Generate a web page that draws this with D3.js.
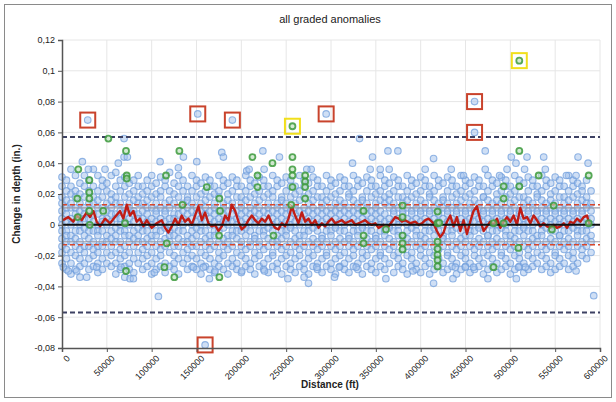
<!DOCTYPE html>
<html>
<head>
<meta charset="utf-8">
<script src="https://cdn.jsdelivr.net/npm/d3@7"></script>
<style>
  body { margin: 0; background: #fff; }
  svg { display: block; }
  text { font-family: "Liberation Sans", Arial, sans-serif; }
</style>
</head>
<body>
<div id="chart"></div>
<script>
// distances are in kft, depth changes in mils (0.001 in.)
const chartTitle = 'all graded anomalies'
const xTicks = [0, 50000, 100000, 150000, 200000, 250000, 300000, 350000, 400000, 450000, 500000, 550000, 600000]
const yTicks = [-0.08, -0.06, -0.04, -0.02, 0, 0.02, 0.04, 0.06, 0.08, 0.1, 0.12]

// tolerance lines
const outerLimit = 0.057
const innerLimit = 0.013
const grayLimit = 0.011

// the dense cloud, read column by column
const blueColumns = [
  [0, [31, 25, 18, 14, 9, 4, 0, -4, -9, -14, -18, -25]],
  [5, [29, 22, 16, 11, 7, 2, -4, -7, -11, -16, -22, -29]],
  [10, [36, 25, 20, 14, 11, 4, 0, -7, -11, -18, -25, -32]],
  [15, [32, 22, 18, 11, 7, 2, -4, -9, -14, -20, -29]],
  [20, [27, 20, 14, 9, 4, 0, -4, -11, -16, -22, -27, -34]],
  [25, [32, 25, 18, 11, 7, 4, -2, -7, -14, -18, -25]],
  [30, [29, 22, 14, 9, 4, 0, -4, -9, -14, -22, -29]],
  [35, [25, 18, 14, 7, 2, -4, -11, -16, -20, -27]],
  [40, [32, 22, 16, 11, 7, 0, -4, -7, -14, -18, -25, -31]],
  [45, [29, 25, 18, 11, 4, 2, -4, -11, -14, -22, -29]],
  [50, [27, 22, 14, 9, 4, 0, -7, -11, -18, -25]],
  [55, [32, 20, 16, 11, 7, 2, -4, -9, -14, -20, -27]],
  [60, [34, 25, 18, 14, 7, 4, -2, -7, -11, -18, -25, -32]],
  [65, [29, 22, 14, 9, 4, 0, -4, -11, -16, -22, -29]],
  [70, [31, 25, 18, 11, 7, 2, -4, -7, -14, -20, -27, -34]],
  [75, [27, 20, 14, 11, 4, 0, -7, -11, -18, -25, -29]],
  [80, [29, 22, 16, 9, 7, 2, -4, -9, -14, -22, -31]],
  [85, [32, 25, 18, 14, 7, 4, -2, -7, -11, -18, -25]],
  [90, [25, 20, 14, 9, 4, 0, -4, -11, -16, -22, -29]],
  [95, [29, 22, 16, 11, 7, 2, -4, -9, -14, -20, -27]],
  [100, [32, 25, 18, 11, 4, 0, -7, -11, -18, -25, -32]],
  [105, [27, 20, 14, 9, 7, 2, -4, -7, -14, -22, -29]],
  [110, [31, 22, 18, 11, 4, 0, -4, -11, -16, -20, -27]],
  [115, [29, 25, 14, 9, 7, 2, -2, -9, -14, -25, -31]],
  [120, [34, 22, 16, 11, 4, 0, -4, -7, -11, -18, -27]],
  [125, [27, 20, 14, 7, 4, -2, -7, -14, -20, -25, -29]],
  [130, [32, 25, 18, 11, 7, 2, -4, -9, -14, -22, -32]],
  [135, [29, 22, 14, 9, 4, 0, -4, -11, -18, -25]],
  [140, [25, 18, 16, 11, 7, 2, -7, -11, -16, -22, -29]],
  [145, [32, 22, 14, 9, 4, 0, -4, -9, -14, -20, -27]],
  [150, [29, 25, 18, 11, 7, 2, -2, -7, -14, -22, -29]],
  [155, [27, 20, 14, 9, 4, 0, -4, -11, -18, -25, -32]],
  [160, [31, 22, 16, 11, 7, 2, -4, -9, -14, -20, -27]],
  [165, [29, 25, 18, 9, 4, 0, -7, -11, -16, -22, -29]],
  [170, [25, 20, 14, 11, 7, 2, -4, -7, -14, -25, -31]],
  [175, [32, 22, 18, 9, 4, 0, -4, -11, -18, -22, -27]],
  [180, [29, 25, 14, 11, 7, 2, -2, -9, -14, -20, -29]],
  [185, [27, 20, 16, 9, 4, 0, -7, -11, -16, -25, -32]],
  [190, [31, 22, 14, 11, 7, 2, -4, -7, -14, -22, -27]],
  [195, [29, 25, 18, 9, 4, 0, -4, -9, -18, -25, -29]],
  [200, [25, 18, 14, 11, 7, 2, -4, -11, -14, -20, -31]],
  [205, [32, 22, 16, 9, 4, 0, -2, -7, -16, -22, -27]],
  [210, [29, 25, 18, 11, 7, 2, -4, -11, -14, -25, -29]],
  [215, [27, 20, 14, 9, 4, 0, -7, -9, -18, -22, -32]],
  [220, [31, 22, 16, 11, 7, 2, -4, -11, -14, -20, -27]],
  [225, [29, 25, 18, 9, 4, 0, -4, -7, -16, -25, -29]],
  [230, [25, 20, 14, 11, 7, 2, -2, -9, -14, -22, -31]],
  [235, [32, 22, 18, 9, 4, 0, -4, -11, -18, -20, -27]],
  [240, [29, 25, 14, 11, 7, 2, -7, -11, -14, -25, -29]],
  [245, [27, 18, 16, 9, 4, 0, -4, -9, -16, -22, -32]],
  [250, [31, 22, 14, 11, 7, 2, -4, -7, -14, -20, -27]],
  [255, [29, 25, 18, 9, 4, 0, -2, -11, -18, -25, -29]],
  [260, [25, 20, 14, 11, 7, 2, -4, -9, -14, -22, -31]],
  [265, [32, 22, 16, 9, 4, 0, -7, -11, -16, -20, -27]],
  [270, [29, 25, 18, 11, 7, 2, -4, -7, -14, -25, -29]],
  [275, [27, 20, 14, 9, 4, 0, -4, -11, -18, -22, -32]],
  [280, [31, 22, 16, 11, 7, 2, -2, -9, -14, -20, -27]],
  [285, [29, 25, 18, 9, 4, 0, -4, -11, -16, -25, -29]],
  [290, [25, 18, 14, 11, 7, 2, -7, -9, -14, -22, -31]],
  [295, [32, 22, 16, 9, 4, 0, -4, -11, -18, -20, -27]],
  [300, [29, 25, 18, 11, 7, 2, -4, -7, -14, -25, -29]],
  [305, [27, 20, 14, 9, 4, 0, -2, -11, -16, -22, -32]],
  [310, [31, 22, 16, 11, 7, 2, -4, -9, -14, -20, -27]],
  [315, [29, 25, 14, 9, 4, 0, -4, -11, -18, -25, -29]],
  [320, [25, 20, 18, 11, 7, 2, -7, -9, -14, -22, -31]],
  [325, [32, 22, 16, 9, 4, 0, -4, -11, -16, -20, -27]],
  [330, [29, 25, 14, 11, 7, 2, -4, -7, -14, -25, -29]],
  [335, [27, 18, 16, 9, 4, 0, -2, -11, -18, -22, -32]],
  [340, [31, 22, 14, 11, 7, 2, -4, -9, -14, -20, -27]],
  [345, [29, 25, 18, 9, 4, 0, -4, -11, -16, -25, -29]],
  [350, [25, 20, 14, 11, 7, 2, -7, -9, -14, -22, -31]],
  [355, [32, 22, 16, 9, 4, 0, -4, -11, -18, -20, -27]],
  [360, [29, 25, 18, 14, 7, 2, -4, -7, -14, -22, -29]],
  [365, [27, 20, 16, 11, 4, 0, -2, -9, -16, -25]],
  [370, [31, 22, 14, 9, 7, 2, -4, -11, -14, -20, -31]],
  [375, [29, 25, 18, 11, 4, 0, -4, -7, -18, -22, -27]],
  [380, [25, 18, 14, 9, 7, 2, -7, -11, -16, -25, -29]],
  [385, [32, 22, 16, 11, 4, 0, -4, -9, -14, -20, -32]],
  [390, [29, 25, 18, 9, 7, 2, -2, -11, -18, -22, -27]],
  [395, [27, 20, 14, 11, 4, 0, -4, -7, -14, -25, -29]],
  [400, [31, 22, 16, 9, 7, 2, -7, -11, -16, -20, -31]],
  [405, [29, 25, 14, 11, 4, 0, -4, -9, -14, -22, -27]],
  [410, [25, 20, 18, 9, 7, 2, -4, -11, -18, -25, -32]],
  [415, [32, 22, 16, 11, 4, 0, -2, -7, -14, -20, -29]],
  [420, [29, 25, 14, 9, 7, 2, -4, -11, -16, -22, -27]],
  [425, [27, 18, 16, 11, 4, 0, -7, -9, -14, -25, -31]],
  [430, [31, 22, 14, 9, 7, 2, -4, -11, -18, -20, -29]],
  [435, [29, 25, 18, 11, 4, 0, -4, -7, -14, -22, -27]],
  [440, [25, 20, 14, 9, 7, 2, -2, -11, -16, -25, -32]],
  [445, [32, 22, 16, 11, 4, 0, -4, -9, -14, -20, -29]],
  [450, [29, 25, 18, 9, 7, 2, -7, -11, -18, -22, -27]],
  [455, [27, 20, 14, 11, 4, 0, -4, -7, -14, -25, -31]],
  [460, [31, 22, 16, 9, 7, 2, -4, -11, -16, -20, -29]],
  [465, [29, 25, 14, 11, 4, 0, -2, -9, -14, -22, -27]],
  [470, [25, 18, 18, 9, 7, 2, -4, -11, -18, -25, -32]],
  [475, [32, 22, 16, 11, 4, 0, -7, -7, -14, -20, -29]],
  [480, [29, 25, 14, 9, 7, 2, -4, -11, -16, -22, -27]],
  [485, [27, 20, 16, 11, 4, 0, -4, -9, -14, -25, -31]],
  [490, [31, 22, 14, 9, 7, 2, -2, -11, -18, -20, -29]],
  [495, [29, 25, 18, 11, 4, 0, -4, -7, -14, -22, -27]],
  [500, [25, 20, 14, 9, 7, 2, -7, -11, -16, -25, -32]],
  [505, [32, 22, 16, 11, 4, 0, -4, -9, -14, -20, -29]],
  [510, [29, 25, 18, 9, 7, 2, -4, -11, -18, -22, -27]],
  [515, [27, 18, 14, 11, 4, 0, -2, -7, -14, -25, -31]],
  [520, [31, 22, 16, 9, 7, 2, -4, -11, -16, -20, -29]],
  [525, [29, 25, 14, 11, 4, 0, -4, -9, -14, -22, -27]],
  [530, [25, 20, 18, 9, 7, 2, -7, -11, -18, -25]],
  [535, [32, 22, 16, 11, 4, 0, -4, -7, -14, -20, -29]],
  [540, [29, 25, 14, 9, 7, 2, -2, -11, -16, -22, -27]],
  [545, [27, 20, 16, 11, 4, 0, -4, -9, -14, -25, -31]],
  [550, [31, 22, 14, 9, 7, 2, -4, -11, -18, -20, -29]],
  [555, [29, 25, 18, 11, 4, 0, -7, -7, -14, -22, -27]],
  [560, [25, 18, 14, 9, 7, 2, -4, -11, -16, -25]],
  [565, [32, 22, 16, 11, 4, 0, -4, -9, -14, -20, -29]],
  [570, [29, 25, 18, 9, 7, 2, -2, -11, -18, -22, -27]],
  [575, [27, 20, 14, 11, 4, 0, -4, -7, -14, -25]],
  [580, [25, 22, 16, 9, 7, 2, -4, -11, -16, -20]],
  [585, [29, 18, 14, 11, 4, 0, -4, -9, -14, -22]],
  [590, [22, 14, 9, 4, 0, -7, -11, -18]]
]

// sparse points outside the cloud
const blueExtra = [
  [28.7, 68], [151.4, 72], [190, 68], [294.6, 72], [460.1, 80], [460.1, 60], [159.6, -78],
  [22.7, 41], [62.8, 40], [69.2, 56], [69.2, 44], [72.9, 44], [48, 36], [35, 36], [29.4, 36],
  [109.4, 41], [135.4, 44], [129.8, 37], [150.3, 41], [178.2, 47], [180, 44], [206, 35],
  [224, 48], [242.5, 44], [277.9, 36], [273, 36], [324, 40], [331.8, 56], [346.3, 44],
  [363.5, 48], [374.6, 48], [343.7, 36], [354.9, 36], [364.9, 36], [405, 36], [414.4, 43],
  [208.7, 36], [225.4, 36], [472, 48], [501.1, 44], [518.6, 44], [537.2, 44], [575.5, 44],
  [506.3, 40], [586.7, 40], [434.1, 36], [472, 36], [496.3, 36], [515.9, 36], [539, 36],
  [447.8, 32], [488, 32], [573.3, 32], [562.5, 32],
  [107.5, -46.5], [27.5, -34], [75.9, -35], [79.6, -35], [164.4, -35], [38.7, -27.5],
  [65.8, -27.5], [1.5, -27.5], [7, -30], [16.4, -30], [103, -31], [157.7, -27.5],
  [146.5, -27.5], [170.7, -30], [274.9, -38], [270, -34], [251.9, -35], [303.9, -34],
  [361.2, -35], [391.4, -30], [225.8, -30], [328.1, -27.5], [309.1, -27.5], [284.2, -27.5],
  [200.5, -30], [414.4, -38], [593, -46], [436, -35], [475, -35], [506.7, -35], [573.3, -30],
  [459, -27.5], [449.8, -27.5], [438.6, -27.5], [516.7, -27.5], [509.2, -27.5]
]

const greenPoints = [
  [17.1, 17], [17.5, 5], [18.2, 36], [30.5, 29], [30.5, 21], [30.5, 17], [30.5, 9], [31, 0],
  [46, 9], [51.7, 56], [71.4, 48], [72.2, 32], [72.2, 30], [70.3, 1], [71.4, -30],
  [114.2, -27.5], [116, 32], [116.8, -12], [125.3, -34], [130.9, 48], [134.3, 13],
  [161.5, 24.5], [175.5, 17], [176.3, 9], [175.2, -7], [175.5, -34], [212.4, 44], [218, 32],
  [218, 24.5], [234.7, 40], [235.8, -7], [255.6, 13], [257, 64], [257, 44], [257, 36],
  [257, 32], [257, 24.5], [271.2, 32], [271.2, 28], [271.2, 24.5], [271.2, 17],
  [336.3, 9], [336.3, -7], [336.3, -12], [361.3, -3], [379.8, 12.5], [379.8, 5], [379.8, -7],
  [379.8, -12], [379.8, -16], [418.8, 8.6], [418.8, 1], [418.8, -11], [418.8, -15.6],
  [418.8, -19.5], [418.8, -23], [418.8, -27], [420.7, 1.3], [481.3, 1], [481.3, -27.5],
  [492.5, 25], [492.5, 17], [492.5, 1], [509, -15], [510, 106.6], [510, 48], [510, 25],
  [531.6, 32], [546.4, -3], [548.3, 12.5], [587.4, 32], [587.4, 1]
]

const movingAvg = [
  [1, 3], [4, 4], [7, 5], [12.6, 2], [16.4, 6], [22, 3], [27.5, 8], [31.2, 5], [35, 9], [38.7, 2],
  [42.4, -1], [48, 4], [53.6, 1], [59.1, 5], [64.7, 9], [68.4, 4], [72.2, 13], [75.9, 6], [79.6, 9],
  [83.3, 2], [87, 4], [90.8, -1], [94.5, 3], [100, -2], [105.7, 1], [111.2, 3], [115, -2],
  [118.7, -5], [122.4, -1], [126.1, 4], [129.8, 0], [133.5, 6], [137.3, 2], [141, 4], [144.7, 0],
  [148.4, 6], [152.1, 12], [155.9, 3], [159.6, 8], [163.3, 1], [167, -1], [170.7, 0], [174.5, -4],
  [178.2, -1], [181.9, 6], [185.6, 3], [189.3, 13], [193.1, 9], [196.8, 2], [200.5, -3],
  [204.2, -1], [208, 3], [211.7, 6], [215.4, 3], [219.1, 1], [222.8, 4], [226.5, 2], [230.3, 6],
  [234, 1], [237.7, -2], [241.4, -3], [245.1, 1], [248.9, -1], [252.6, 4], [256.3, 12], [260, 6],
  [263.7, 1], [267.5, 8], [271.2, 2], [274.9, 4], [278.6, 0], [282.3, 3], [286.1, -2], [289.8, 1],
  [293.5, -1], [297.2, 2], [300.9, 4], [304.6, 1], [308.4, 2], [312, 3], [315.8, 1], [319.5, 2],
  [323.3, 3], [327, 0], [330.7, 1], [334.4, 2], [338.1, 3], [341.9, 1], [345.6, 0], [349.3, 1],
  [353, -2], [358.6, 0], [364.2, -1], [367.9, 2], [371.6, 5], [375.4, 4], [379.1, 2], [382.8, 3],
  [388.4, 1], [394, 2], [397.7, 0], [401.4, 1], [405.1, 3], [408.8, 4], [414.4, 1], [418.1, -4],
  [421.8, -8], [425.6, -5], [429.3, 2], [433, 6], [436.7, -1], [440.4, 5], [444.2, -4], [447.9, 3],
  [451.6, -6], [455.3, 2], [459, 9], [462.8, 12], [466.5, 3], [470.2, -4], [473.9, -1], [477.6, 2],
  [481.4, 0], [485.1, 4], [488.8, -2], [492.5, 2], [496.2, 5], [500, 2], [503.7, 6], [507.4, 0],
  [511.1, 11], [514.8, 4], [518.6, 5], [522.3, 1], [526, 6], [529.7, 3], [533.4, -1], [537.2, 1],
  [540.9, -1], [544.6, -2], [548.3, 0], [552, -2], [555.8, -1], [559.5, 1], [563.2, -2],
  [566.9, 2], [570.6, 1], [574.4, 4], [578.1, 2], [581.8, 5], [585.5, 6], [587.4, 2], [589.2, 0]
]

const redBoxes = [[28.7, 68], [151.4, 72], [190, 68], [294.6, 72], [460.1, 80], [460.1, 60], [159.6, -78]]
const yellowBoxes = [[257, 64], [510, 106.6]]

const width = 616
const height = 402
const margin = { top: 40, right: 16, bottom: 54, left: 62 }

const svg = d3.select('#chart').append('svg')
  .attr('width', width)
  .attr('height', height)

// frame round the whole chart
svg.append('rect')
  .attr('x', 4.5).attr('y', 4.5)
  .attr('width', 607).attr('height', 393)
  .attr('fill', '#fff')
  .attr('stroke', '#8a8a8a')

const x = d3.scaleLinear([0, 600000], [margin.left, width - margin.right])
const y = d3.scaleLinear([-0.08, 0.12], [height - margin.bottom, margin.top])

const px = d => x(d * 1000)
const py = m => y(m / 1000)

// grid
svg.append('g').selectAll('line')
  .data(xTicks.slice(1))
  .join('line')
  .attr('x1', d => x(d)).attr('x2', d => x(d))
  .attr('y1', y(0.12)).attr('y2', y(-0.08))
  .attr('stroke', '#e6e6e6')

svg.append('g').selectAll('line')
  .data(yTicks.slice(1))
  .join('line')
  .attr('x1', x(0)).attr('x2', x(600000))
  .attr('y1', d => y(d)).attr('y2', d => y(d))
  .attr('stroke', '#e6e6e6')

// blue cloud
const bluePts = blueColumns.flatMap(([d, list]) => list.map(m => [d, m])).concat(blueExtra)

svg.append('g').selectAll('circle')
  .data(bluePts)
  .join('circle')
  .attr('cx', d => px(d[0]))
  .attr('cy', d => py(d[1]))
  .attr('r', 3.3)
  .attr('fill', '#9fc0ec')
  .attr('fill-opacity', 0.5)
  .attr('stroke', '#719fdc')
  .attr('stroke-opacity', 0.75)
  .attr('stroke-width', 1.1)

// limit lines
const hline = (v, color, w, dash) => svg.append('line')
  .attr('x1', x(0)).attr('x2', x(600000))
  .attr('y1', y(v)).attr('y2', y(v))
  .attr('stroke', color)
  .attr('stroke-width', w)
  .attr('stroke-dasharray', dash)

hline(grayLimit, '#9a9aa6', 1.2, null)
hline(-grayLimit, '#9a9aa6', 1.2, null)
hline(innerLimit, '#d9472b', 1.5, '5,3')
hline(-innerLimit, '#d9472b', 1.5, '5,3')
hline(outerLimit, '#3d4163', 2, '5,3')
hline(-outerLimit, '#3d4163', 2, '5,3')

// moving average
svg.append('path')
  .datum(movingAvg)
  .attr('fill', 'none')
  .attr('stroke', '#c01d16')
  .attr('stroke-width', 2.4)
  .attr('stroke-linejoin', 'round')
  .attr('d', d3.line().x(d => px(d[0])).y(d => py(d[1])))

hline(0, '#111', 2, null)

// green points
svg.append('g').selectAll('circle')
  .data(greenPoints)
  .join('circle')
  .attr('cx', d => px(d[0]))
  .attr('cy', d => py(d[1]))
  .attr('r', 3)
  .attr('fill', '#b7dcb5')
  .attr('fill-opacity', 0.6)
  .attr('stroke', '#3c9a3c')
  .attr('stroke-opacity', 0.85)
  .attr('stroke-width', 1.8)

// highlight boxes
const box = (list, color) => svg.append('g').selectAll('rect')
  .data(list)
  .join('rect')
  .attr('x', d => px(d[0]) - 7.5)
  .attr('y', d => py(d[1]) - 7.5)
  .attr('width', 15).attr('height', 15)
  .attr('fill', 'none')
  .attr('stroke', color)
  .attr('stroke-width', 2)

box(redBoxes, '#c9432c')
box(yellowBoxes, '#f1df1c')

// axes
const yAxis = svg.append('g')
  .attr('transform', `translate(${x(0)},0)`)
  .call(d3.axisLeft(y).tickValues(yTicks).tickSize(4)
    .tickFormat(d => String(+d.toFixed(2)).replace('.', ',')))

const xAxis = svg.append('g')
  .attr('transform', `translate(0,${y(-0.08)})`)
  .call(d3.axisBottom(x).tickValues(xTicks).tickSize(4).tickFormat(d => String(d)))

for (const g of [xAxis, yAxis]) {
  g.select('.domain').attr('stroke', '#555').attr('stroke-width', 1.5)
  g.selectAll('.tick line').attr('stroke', '#555')
  g.selectAll('text').attr('font-size', 9).attr('fill', '#222')
    .attr('font-family', '"Liberation Sans", Arial, sans-serif')
}

xAxis.selectAll('text')
  .attr('text-anchor', 'end')
  .attr('dy', null)
  .attr('transform', 'translate(3,6) rotate(-45)')

// titles
svg.append('text')
  .attr('x', 330).attr('y', 23)
  .attr('text-anchor', 'middle')
  .attr('font-size', 11)
  .attr('fill', '#222')
  .text(chartTitle)

svg.append('text')
  .attr('x', 330).attr('y', 388)
  .attr('text-anchor', 'middle')
  .attr('font-size', 10)
  .attr('font-weight', 'bold')
  .attr('fill', '#222')
  .text('Distance (ft)')

svg.append('text')
  .attr('transform', 'translate(20,194) rotate(-90)')
  .attr('text-anchor', 'middle')
  .attr('font-size', 10)
  .attr('font-weight', 'bold')
  .attr('fill', '#222')
  .text('Change in depth (in.)')
</script>
</body>
</html>
